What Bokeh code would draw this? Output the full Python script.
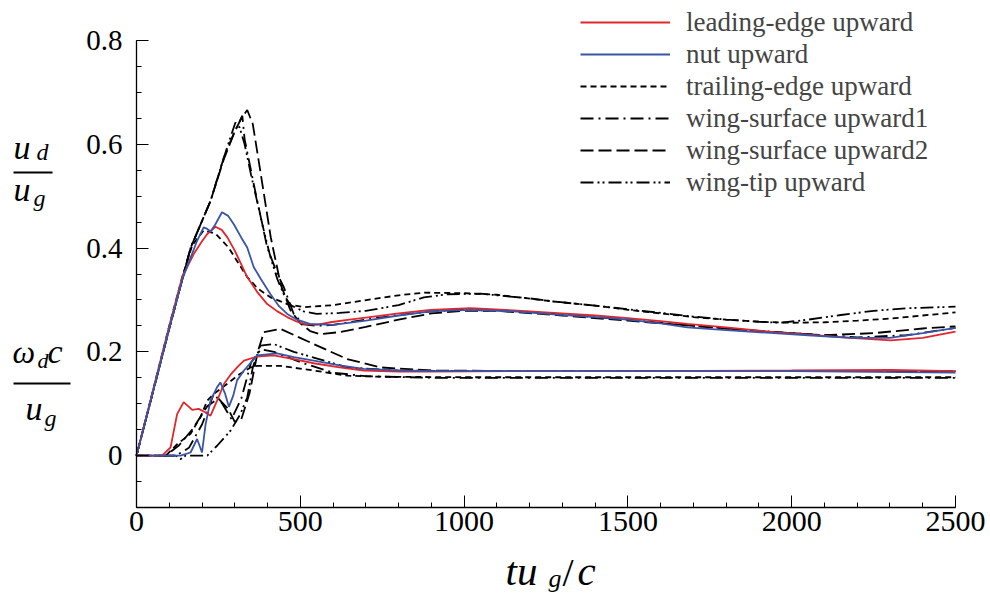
from bokeh.plotting import figure
from bokeh.models import Range1d, FixedTicker, Legend, LegendItem, LinearAxis
from bokeh.core.properties import value
from bokeh.embed import file_html
from bokeh.resources import INLINE

# ---------------- data: tu_g/c samples and values ----------------
# u_d/u_g (upper family) and omega_d c/u_g (lower family) for each release case
le_up_t = [0, 50, 100, 140, 175, 200, 216, 241, 260, 277, 300, 338, 370, 399, 430, 460, 490, 511, 550, 592,
           650, 700, 800, 897, 1020, 1150, 1274, 1400, 1500, 1600, 1681, 1800, 1946, 2050, 2180, 2302, 2400, 2500]
le_up_v = [0, 0.125, 0.25, 0.345, 0.389, 0.413, 0.427, 0.441, 0.435, 0.421, 0.395, 0.344, 0.314, 0.292, 0.278,
           0.267, 0.258, 0.254, 0.252, 0.257, 0.262, 0.266, 0.274, 0.281, 0.284, 0.280, 0.275, 0.270, 0.265, 0.259,
           0.254, 0.247, 0.238, 0.233, 0.227, 0.222, 0.227, 0.239]
le_rot_t = [0, 78, 104, 124, 144, 160, 170, 190, 211, 226, 246, 267, 287, 310, 328, 368, 419, 480, 541, 620, 694,
            800, 897, 1200, 1500, 2000, 2300, 2500]
le_rot_v = [0, 0, 0.016, 0.08, 0.103, 0.094, 0.088, 0.09, 0.083, 0.077, 0.106, 0.138, 0.156, 0.172, 0.183, 0.191,
            0.193, 0.186, 0.178, 0.17, 0.164, 0.162, 0.162, 0.163, 0.163, 0.164, 0.165, 0.163]

nut_up_t = [0, 50, 100, 140, 185, 205, 216, 226, 240, 261, 280, 297, 320, 338, 358, 380, 409, 435, 460, 490, 529,
            600, 700, 800, 897, 1020, 1150, 1274, 1400, 1500, 1600, 1681, 1800, 1946, 2050, 2180, 2300, 2400, 2500]
nut_up_v = [0, 0.122, 0.245, 0.34, 0.414, 0.44, 0.437, 0.432, 0.445, 0.469, 0.462, 0.446, 0.42, 0.401, 0.363,
            0.34, 0.311, 0.288, 0.273, 0.262, 0.254, 0.252, 0.26, 0.27, 0.278, 0.281, 0.278, 0.272, 0.267, 0.262,
            0.255, 0.247, 0.242, 0.236, 0.232, 0.227, 0.227, 0.236, 0.246]
nut_rot_t = [0, 134, 165, 185, 200, 211, 226, 246, 256, 270, 282, 295, 307, 328, 368, 429, 480, 541, 620, 694,
             800, 900, 1500, 2000, 2500]
nut_rot_v = [0, 0, 0.006, 0.032, 0.006, 0.061, 0.106, 0.132, 0.141, 0.12, 0.094, 0.115, 0.145, 0.164, 0.193,
             0.197, 0.19, 0.183, 0.174, 0.167, 0.164, 0.163, 0.163, 0.163, 0.160]

te_up_t = [0, 50, 100, 140, 170, 205, 241, 281, 310, 338, 370, 409, 460, 511, 600, 694, 800, 877, 1000, 1100, 1274,
           1400, 1500, 1600, 1700, 1800, 1900, 2000, 2100, 2200, 2300, 2400, 2500]
te_up_v = [0, 0.125, 0.25, 0.345, 0.405, 0.434, 0.428, 0.401, 0.372, 0.344, 0.322, 0.305, 0.292, 0.286, 0.29,
           0.299, 0.309, 0.314, 0.313, 0.31, 0.297, 0.289, 0.281, 0.274, 0.267, 0.262, 0.258, 0.256, 0.257, 0.26,
           0.264, 0.27, 0.276]
te_rot_t = [0, 90, 124, 165, 195, 216, 236, 270, 310, 348, 370, 440, 541, 643, 750, 1000, 1500, 2000, 2500]
te_rot_v = [0, 0, 0.022, 0.042, 0.074, 0.106, 0.119, 0.135, 0.155, 0.17, 0.173, 0.173, 0.164, 0.154, 0.152, 0.151,
            0.151, 0.151, 0.151]

ws1_up_t = [0, 50, 100, 165, 226, 267, 300, 323, 330, 358, 399, 430, 450, 480, 510, 550, 600, 700, 800, 900, 1000,
            1200, 1400, 1500, 1700, 1800, 2000, 2200, 2350, 2500]
ws1_up_v = [0, 0.122, 0.245, 0.4, 0.491, 0.575, 0.625, 0.655, 0.61, 0.523, 0.401, 0.35, 0.324, 0.273, 0.253, 0.25,
            0.252, 0.262, 0.271, 0.278, 0.281, 0.277, 0.267, 0.262, 0.25, 0.245, 0.236, 0.228, 0.232, 0.246]
ws1_rot_t = [0, 120, 160, 200, 236, 262, 290, 320, 350, 380, 420, 500, 600, 700, 900, 1500, 2000, 2500]
ws1_rot_v = [0, 0, 0.015, 0.06, 0.119, 0.1, 0.07, 0.11, 0.18, 0.205, 0.2, 0.18, 0.16, 0.153, 0.15, 0.15, 0.15,
             0.15]

ws2_up_t = [0, 50, 100, 165, 226, 267, 300, 320, 338, 355, 380, 410, 440, 470, 500, 530, 560, 620, 700, 800, 900,
            1000, 1100, 1300, 1500, 1700, 1900, 2100, 2250, 2400, 2500]
ws2_up_v = [0, 0.122, 0.245, 0.4, 0.491, 0.572, 0.625, 0.65, 0.666, 0.639, 0.54, 0.42, 0.33, 0.28, 0.255, 0.24,
            0.234, 0.238, 0.248, 0.262, 0.274, 0.279, 0.279, 0.27, 0.26, 0.25, 0.24, 0.232, 0.236, 0.245, 0.249]
ws2_rot_t = [0, 90, 130, 170, 216, 250, 280, 300, 320, 345, 370, 389, 440, 541, 643, 745, 900, 1200, 2500]
ws2_rot_v = [0, 0, 0.02, 0.05, 0.095, 0.11, 0.09, 0.065, 0.07, 0.12, 0.2, 0.238, 0.244, 0.215, 0.186, 0.17, 0.164,
             0.163, 0.163]

tip_up_t = [0, 50, 100, 165, 226, 267, 285, 302, 315, 330, 350, 370, 390, 410, 430, 450, 470, 510, 550, 620, 700,
            800, 877, 950, 1050, 1200, 1274, 1400, 1500, 1600, 1700, 1800, 1900, 1966, 2050, 2150, 2250, 2350, 2500]
tip_up_v = [0, 0.122, 0.245, 0.4, 0.491, 0.575, 0.61, 0.642, 0.632, 0.6, 0.54, 0.485, 0.43, 0.38, 0.34, 0.31, 0.29,
            0.278, 0.273, 0.275, 0.279, 0.29, 0.305, 0.311, 0.312, 0.303, 0.297, 0.289, 0.282, 0.275, 0.268, 0.262,
            0.258, 0.256, 0.262, 0.271, 0.279, 0.284, 0.287]
tip_rot_t = [0, 120, 134, 150, 216, 246, 287, 317, 338, 355, 378, 419, 480, 541, 643, 796, 1000, 1500, 2000, 2500]
tip_rot_v = [0, 0, -0.007, 0, 0, 0.019, 0.048, 0.08, 0.112, 0.17, 0.212, 0.215, 0.2, 0.189, 0.17, 0.164, 0.163,
             0.163, 0.163, 0.163]

x_ticks = [0, 500, 1000, 1500, 2000, 2500]
y_ticks = [0, 0.2, 0.4, 0.6, 0.8]
y_tick_labels = {0: "0", 0.2: "0.2", 0.4: "0.4", 0.6: "0.6", 0.8: "0.8"}

# ---------------- page geometry ----------------
# The plotting frame fills the whole page; the axes are pinned at t=0 and value=-0.1
# (fixed_location) so the axis titles can sit in the same frame.
W, H = 990, 595
AX_L, AX_R, AX_T, AX_B = 136, 955, 40, 507     # axis box on the page, pixels
X0, X1, Y0, Y1 = 0, 2500, -0.1, 0.8
KX = (AX_R - AX_L) / (X1 - X0)
KY = (AX_B - AX_T) / (Y1 - Y0)
SERIF = "Liberation Serif"
RED = "#e3262b"
BLUE = "#3a55a6"
LW = 1.8
BASELINE_FIX = 0.26     # the text glyph sits this fraction of its size below the requested baseline


def sx(px):
    return X0 + (px - AX_L) / KX


def sy(py):
    return Y1 - (py - AX_T) / KY


p = figure(width=W, height=H, x_range=Range1d(sx(0), sx(W)), y_range=Range1d(sy(H), sy(0)),
           x_axis_type=None, y_axis_type=None, title=None,
           output_backend="svg", toolbar_location=None, min_border=0)
p.outline_line_color = None
p.grid.visible = False

xaxis = LinearAxis(fixed_location=Y0, bounds=(X0, X1),
                   ticker=FixedTicker(ticks=x_ticks, minor_ticks=list(range(0, 2501, 100))))
yaxis = LinearAxis(fixed_location=X0, bounds=(Y0, Y1),
                   ticker=FixedTicker(ticks=y_ticks, minor_ticks=[round(-0.1 + 0.05 * i, 2) for i in range(19)]))
for ax in (xaxis, yaxis):
    ax.axis_line_color = "black"
    ax.axis_line_width = 1.3
    ax.major_tick_line_color = "black"
    ax.minor_tick_line_color = "black"
    ax.major_tick_in = 12
    ax.major_tick_out = 0
    ax.minor_tick_in = 5
    ax.minor_tick_out = 0
    ax.major_label_text_font = SERIF
    ax.major_label_text_color = "black"
xaxis.major_label_text_font_size = "30px"
xaxis.major_label_standoff = 4
yaxis.major_label_overrides = y_tick_labels
yaxis.major_label_text_font_size = "29px"
yaxis.major_label_standoff = 14
p.add_layout(xaxis, "below")
p.add_layout(yaxis, "left")

series = [
    ("leading-edge upward", le_up_t, le_up_v, le_rot_t, le_rot_v, RED, "solid"),
    ("nut upward", nut_up_t, nut_up_v, nut_rot_t, nut_rot_v, BLUE, "solid"),
    ("trailing-edge upward", te_up_t, te_up_v, te_rot_t, te_rot_v, "black", "6 4"),
    ("wing-surface upward1", ws1_up_t, ws1_up_v, ws1_rot_t, ws1_rot_v, "black", "13 5 2 5"),
    ("wing-surface upward2", ws2_up_t, ws2_up_v, ws2_rot_t, ws2_rot_v, "black", "13 5"),
    ("wing-tip upward", tip_up_t, tip_up_v, tip_rot_t, tip_rot_v, "black", "13 4 2 3 2 4"),
]

legend_renderers = {}
# black curves first so the coloured ones sit on top
for name, ut, uv, rt, rv, col, dash in sorted(series, key=lambda s: s[5] != "black"):
    r_up = p.line(ut, uv, line_color=col, line_width=LW, line_dash=dash)
    p.line(rt, rv, line_color=col, line_width=LW, line_dash=dash)
    legend_renderers[name] = r_up

legend = Legend(items=[LegendItem(label=s[0], renderers=[legend_renderers[s[0]]]) for s in series],
                location=(580, H - 198), orientation="vertical",
                glyph_width=90, glyph_height=32, label_height=32, spacing=0, padding=0, margin=0,
                label_standoff=16, label_text_font=SERIF, label_text_font_size="27px",
                background_fill_alpha=0, border_line_alpha=0)
p.add_layout(legend)


def put(text, px, py, size, italic=True):
    """Text whose left end and baseline sit at page pixel (px, py)."""
    p.text(x=[sx(px)], y=[sy(py - BASELINE_FIX * size)], text=[text], text_font=value(SERIF),
           text_font_size=value(f"{size}px"), text_font_style="italic" if italic else "normal",
           text_color="black", text_align="left", text_baseline="alphabetic")


def bar(px0, px1, py):
    p.segment(x0=[sx(px0)], y0=[sy(py)], x1=[sx(px1)], y1=[sy(py)], line_color="black", line_width=2)


# u_d / u_g
put("u", 13, 156, 34)
put("d", 36, 158, 24)
bar(13, 52, 172)
put("u", 13, 198, 34)
put("g", 33, 204, 24)
# omega_d c / u_g
put("\u03c9", 12, 360, 32)
put("d", 37, 366, 22)
put("c", 47, 360, 34)
bar(13, 70, 383)
put("u", 25, 417, 34)
put("g", 44, 424, 24)
# x axis title tu_g / c
put("tu", 505, 581, 41)
put("g", 548, 585, 26)
put("/", 562, 582, 40, italic=False)
put("c", 577, 581, 41)

open("out.html", "w").write(file_html(p, INLINE))
